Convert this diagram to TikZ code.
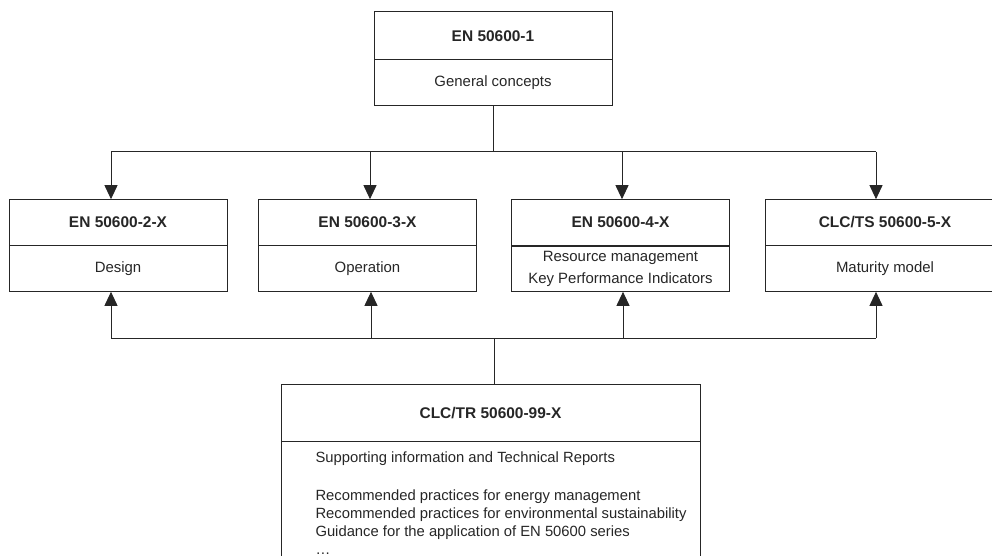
\documentclass[tikz,border=0pt]{standalone}
\usepackage{fontspec}
\setmainfont{Liberation Sans}
\usetikzlibrary{positioning,arrows.meta}
\tikzset{
  headbox/.style={draw,outer sep=0pt,inner sep=2pt,font=\bfseries\fontsize{11.6}{13}\selectfont},
  bodybox/.style={draw,outer sep=0pt,inner sep=2pt,align=center,font=\fontsize{11.2}{13}\selectfont},
  arr/.style={-{Triangle[width=9.75pt,length=10.5pt]}}
}
\begin{document}
\begin{tikzpicture}[x=0.75pt,y=-0.75pt,line width=0.75pt,color=black!85]
	\useasboundingbox (0,0) rectangle (992,556);

	% general concepts
	\node[headbox,minimum width=178.5pt,minimum height=36pt] (gen) at (493,36) {EN 50600-1};
	\node[bodybox,minimum width=178.5pt,minimum height=34.5pt,below=0pt of gen] (genb) {General concepts};

	% the four parts
	\node[headbox,minimum width=163.5pt,minimum height=35pt] (des) at (118,222.5) {EN 50600-2-X};
	\node[bodybox,minimum width=163.5pt,minimum height=34.5pt,below=0pt of des] (desb) {Design};
	\node[headbox,minimum width=163.5pt,minimum height=35pt] (ope) at (367.5,222.5) {EN 50600-3-X};
	\node[bodybox,minimum width=163.5pt,minimum height=34.5pt,below=0pt of ope] (opeb) {Operation};
	\node[headbox,minimum width=163.5pt,minimum height=35pt] (res) at (620.5,222.5) {EN 50600-4-X};
	\node[bodybox,minimum width=163.5pt,minimum height=34.5pt,below=0pt of res,font=\fontsize{11.2}{17}\selectfont] (resb) {Resource management\\Key Performance Indicators};
	\draw[line width=1.5pt] (res.south west) -- (res.south east);
	\node[headbox,minimum width=180pt,minimum height=35pt] (mat) at (885,222.5) {CLC/TS 50600-5-X};
	\node[bodybox,minimum width=180pt,minimum height=34.5pt,below=0pt of mat] (matb) {Maturity model};

	% technical reports
	\node[headbox,minimum width=314.25pt,minimum height=42.5pt] (sup) at (490.5,413.3) {CLC/TR 50600-99-X};
	\node[draw,outer sep=0pt,minimum width=314.25pt,minimum height=105pt,below=0pt of sup] (supb) {};
	\node[anchor=north west,inner sep=0pt,align=left,font=\fontsize{11.1}{13.5}\selectfont] (supt) at (315,451) {Supporting information and Technical Reports\\[15pt]Recommended practices for energy management\\Recommended practices for environmental sustainability\\Guidance for the application of EN 50600 series\\\ldots};

	% from EN 50600-1
	\coordinate (t1) at (111,152);
	\coordinate (t2) at (370,152);
	\coordinate (t3) at (622,152);
	\coordinate (t4) at (876,152);
	\draw (genb.south) -- (genb.south |- t1);
	\draw (t1) -- (t4);
	\draw[arr] (t1) -- (t1 |- des.north);
	\draw[arr] (t2) -- (t2 |- ope.north);
	\draw[arr] (t3) -- (t3 |- res.north);
	\draw[arr] (t4) -- (t4 |- mat.north);

	% from CLC/TR 50600-99-X
	\coordinate (b1) at (111,338);
	\coordinate (b2) at (371,338);
	\coordinate (b3) at (623,338);
	\coordinate (b4) at (876,338);
	\coordinate (bj) at (494,338);
	\draw (bj) -- (bj |- sup.north);
	\draw (b1) -- (b4);
	\draw[arr] (b1) -- (b1 |- desb.south);
	\draw[arr] (b2) -- (b2 |- opeb.south);
	\draw[arr] (b3) -- (b3 |- resb.south);
	\draw[arr] (b4) -- (b4 |- matb.south);
\end{tikzpicture}
\end{document}
